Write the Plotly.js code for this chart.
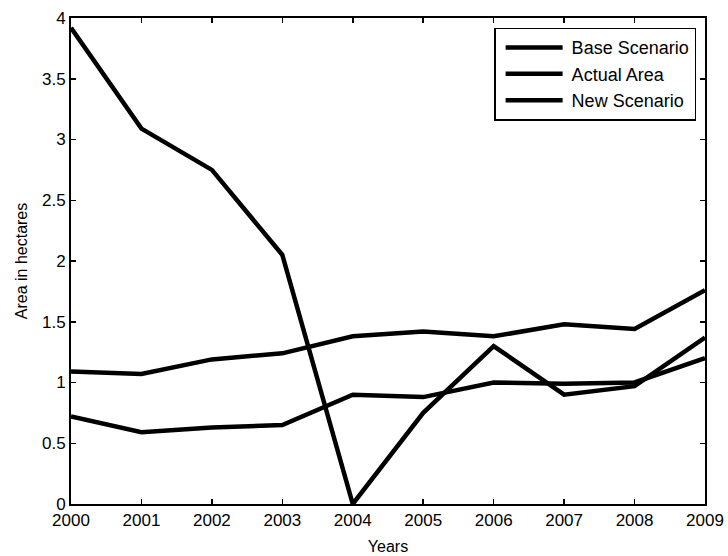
<!DOCTYPE html>
<html>
<head>
<meta charset="utf-8">
<script src="https://cdn.plot.ly/plotly-3.0.1.min.js"></script>
<style>body{margin:0;padding:0;background:#fff;}#chart{width:728px;height:556px;}</style>
</head>
<body>
<div id="chart"></div>
<script>
const years = [2000, 2001, 2002, 2003, 2004, 2005, 2006, 2007, 2008, 2009];
const baseScenario = [1.09, 1.07, 1.19, 1.24, 1.38, 1.42, 1.38, 1.48, 1.44, 1.76];
const actualArea = [3.92, 3.09, 2.75, 2.05, 0.0, 0.75, 1.30, 0.90, 0.97, 1.37];
const newScenario = [0.72, 0.59, 0.63, 0.65, 0.90, 0.88, 1.00, 0.99, 1.00, 1.20];
const seriesNames = ["Base Scenario", "Actual Area", "New Scenario"];
const yTicks = [0, 0.5, 1, 1.5, 2, 2.5, 3, 3.5, 4];
const yTickText = ["0", "0.5", "1", "1.5", "2", "2.5", "3", "3.5", "4"];

const font = "Liberation Sans, Arial, sans-serif";
const lineStyle = {color: "#000", width: 4.5};
const traces = [baseScenario, actualArea, newScenario].map((ys, i) => ({
  x: years, y: ys, name: seriesNames[i], type: "scatter", mode: "lines",
  line: lineStyle
}));

const axisCommon = {
  showline: true, linecolor: "#000", linewidth: 2, mirror: "ticks",
  ticks: "inside", ticklen: 5, tickcolor: "#000", tickwidth: 1.5,
  showgrid: false, zeroline: false,
  tickfont: {family: font, size: 17, color: "#000"}
};

const layout = {
  width: 728, height: 556,
  margin: {l: 71, r: 23, t: 18, b: 52},
  paper_bgcolor: "#fff", plot_bgcolor: "#fff",
  showlegend: true,
  xaxis: Object.assign({}, axisCommon, {
    range: [2000, 2009], tickvals: years, ticktext: years.map(String),
    title: {text: "Years", font: {family: font, size: 16, color: "#000"}, standoff: 11}
  }),
  yaxis: Object.assign({}, axisCommon, {
    range: [0, 4], tickvals: yTicks, ticktext: yTickText,
    title: {text: "Area in hectares", font: {family: font, size: 16, color: "#000"}, standoff: 10}
  }),
  legend: {
    x: 0.986, xanchor: "right", y: 0.98, yanchor: "top",
    bordercolor: "#000", borderwidth: 1.5, bgcolor: "#fff",
    font: {family: font, size: 18, color: "#000"},
    tracegroupgap: 0, itemwidth: 66
  }
};

Plotly.newPlot("chart", traces, layout, {displayModeBar: false, staticPlot: true}).then(() => {
  document.querySelectorAll("#chart .legend .legendlines path").forEach(p => {
    p.setAttribute("d", "M10,0h57");
  });
});
</script>
</body>
</html>
